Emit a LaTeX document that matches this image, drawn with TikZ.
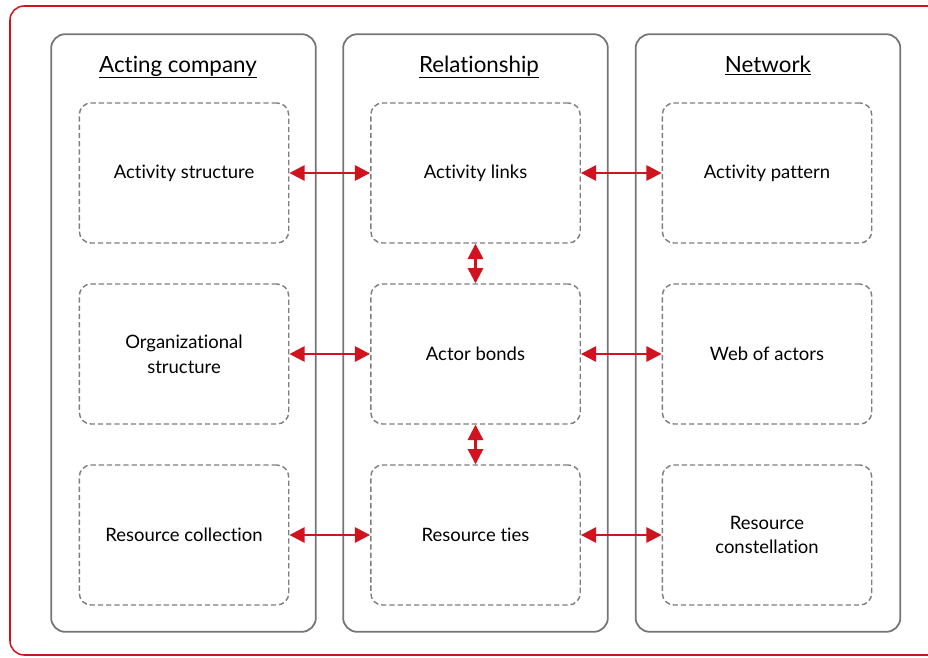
\documentclass[tikz,border=0pt]{standalone}
\usepackage{fontspec}
\setmainfont{Lato}[Ligatures=NoCommon]
\usetikzlibrary{arrows.meta}

\definecolor{framered}{HTML}{D0131F}
\definecolor{boxgray}{HTML}{757575}
\definecolor{dashgray}{HTML}{7E7E7E}

\tikzset{
	column/.style={draw=boxgray, line width=1.5pt, rounded corners=12pt,
		minimum width=225pt, minimum height=508pt},
	header/.style={anchor=base, font=\fontsize{19}{22}\selectfont},
	part/.style={draw=dashgray, dash pattern=on 4.5pt off 2.5pt, line width=1.2pt,
		rounded corners=10pt, minimum width=178pt, minimum height=119pt,
		align=center, font=\fontsize{15.7}{21}\selectfont},
	link/.style={draw=framered, line width=2pt,
		{Triangle[length=13pt,width=13pt]}-{Triangle[length=13pt,width=13pt]}}
}

\begin{document}
\begin{tikzpicture}[x=0.85pt, y=-0.85pt]
	\useasboundingbox (0,0) rectangle (928,657);
	\draw[framered, line width=1.3pt, rounded corners=12pt] (10,6) rectangle (960,655);

	% the three levels
	\node[column] (company) at (183.5,333) {};
	\node[column] (relation) at (475.5,333) {};
	\node[column] (network) at (768,333) {};

	\node[header] at (178,72) {\underline{Acting company}};
	\node[header] at (479,72) {\underline{Relationship}};
	\node[header] at (768,72) {\underline{Network}};

	% acting company
	\node[part] (as) at (184,173) {Activity structure};
	\node[part] (os) at (184,354) {Organizational\\structure};
	\node[part] (rc) at (184,535) {Resource collection};

	% relationship
	\node[part] (al) at (475.5,173) {Activity links};
	\node[part] (ab) at (475.5,354) {Actor bonds};
	\node[part] (rt) at (475.5,535) {Resource ties};

	% network
	\node[part] (ap) at (767,173) {Activity pattern};
	\node[part] (wa) at (767,354) {Web of actors};
	\node[part] (rs) at (767,535) {Resource\\constellation};

	\draw[link] (as) -- (al);
	\draw[link] (os) -- (ab);
	\draw[link] (rc) -- (rt);
	\draw[link] (al) -- (ap);
	\draw[link] (ab) -- (wa);
	\draw[link] (rt) -- (rs);
	\draw[link] (al) -- (ab);
	\draw[link] (ab) -- (rt);
\end{tikzpicture}
\end{document}
